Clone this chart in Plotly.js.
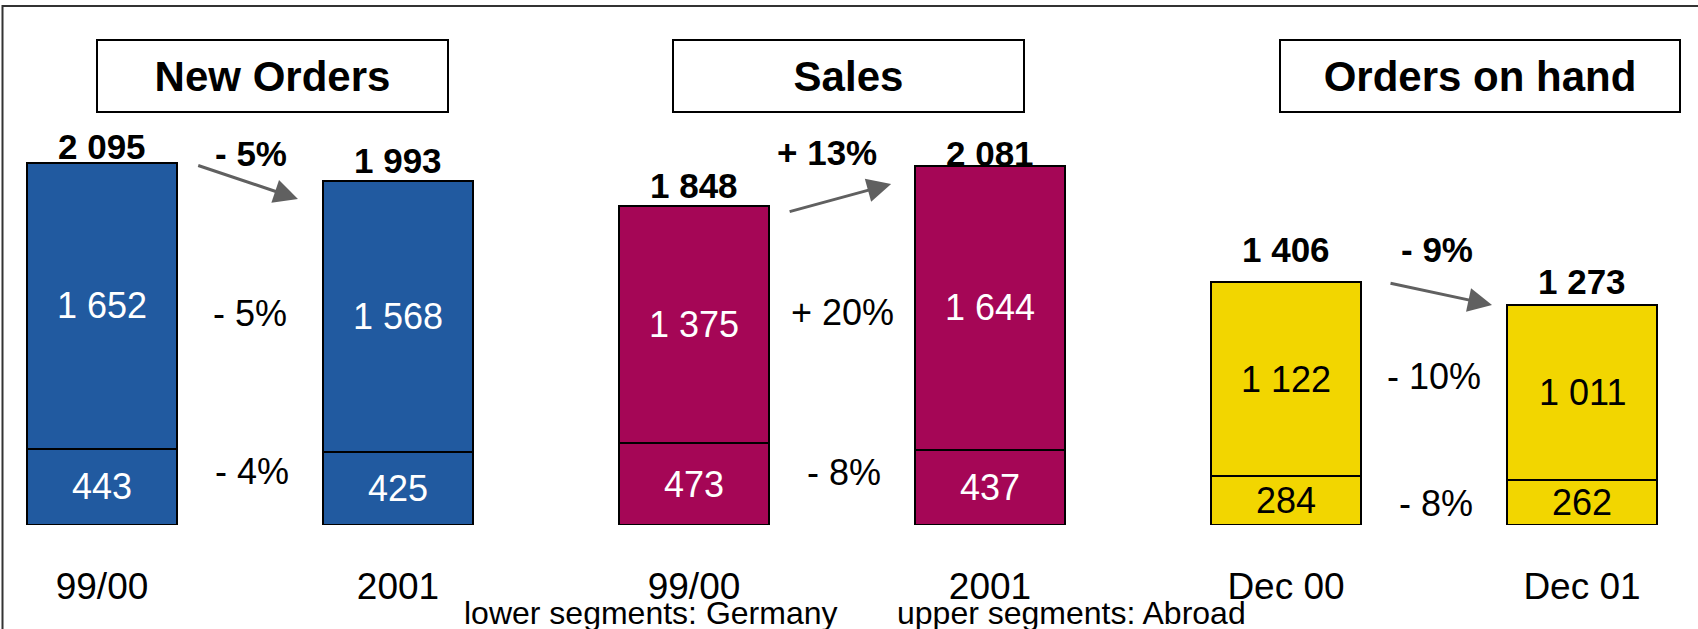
<!DOCTYPE html>
<html>
<head>
<meta charset="utf-8">
<script src="https://cdn.plot.ly/plotly-3.0.1.min.js"></script>
<style>html,body{margin:0;padding:0;background:#fff;}#chart{width:1698px;height:629px;}</style>
</head>
<body>
<div id="chart"></div>
<script>
// ---- data ----
const categories = ['99/00', '2001', '99/00', '2001', 'Dec 00', 'Dec 01'];
const panels = ['New Orders', 'Sales', 'Orders on hand'];
const germany = [443, 425, 473, 437, 284, 262];
const abroad = [1652, 1568, 1375, 1644, 1122, 1011];
const totals = [2095, 1993, 1848, 2081, 1406, 1273];
const changeTotal = ['- 5%', '+ 13%', '- 9%'];
const changeAbroad = ['- 5%', '+ 20%', '- 10%'];
const changeGermany = ['- 4%', '- 8%', '- 8%'];
const footerLeft = 'lower segments: Germany';
const footerRight = 'upper segments: Abroad';

// ---- styles ----
const FONT = 'Liberation Sans, Arial, Helvetica, sans-serif';
const panelColors = ['#215AA0', '#A50656', '#F2D600'];
const insideTextColors = ['#ffffff', '#ffffff', '#000000'];
const W = 1698, H = 629, MB = 104;
const PXU = 0.1726;            // pixels per value unit
const STEP = 296, X0 = 102;    // pixels between bar centres, first centre
const plotH = H - MB;
const totalShift = [17, 21, 21, 12, 33, 24];
const changeShift = [{dx: 1, dy: 10}, {dx: -15, dy: 13}, {dx: 3, dy: 33}];
const upperShift = [-2, 4, 9];
const lowerShift = [16, 13, -2];
const arrowGeom = [
  {tx: 0.32, ty: -9, hx: 0.662, hy: -104},
  {tx: 0.318, ty: -35, hx: 0.666, hy: -105},
  {tx: 0.348, ty: -4, hx: 0.696, hy: 2}
];
const boxes = [
  {cx: 272.5, w: 353}, {cx: 848.5, w: 353}, {cx: 1480, w: 402}
];

const xs = categories.map((c, i) => i);
const barColors = categories.map((c, i) => panelColors[Math.floor(i / 2)]);

const traces = [
  {type: 'bar', x: xs, y: germany, name: 'Germany', width: 0.505,
   marker: {color: barColors, line: {color: '#000', width: 2}}, hoverinfo: 'skip'},
  {type: 'bar', x: xs, y: abroad, name: 'Abroad', width: 0.505,
   marker: {color: barColors, line: {color: '#000', width: 2}}, hoverinfo: 'skip'}
];

const fmt = v => v.toLocaleString('en-US').replace(/,/g, ' ');
const ann = [];
// totals and inside values
categories.forEach((c, i) => {
  const p = Math.floor(i / 2);
  ann.push({x: i, y: totals[i], xref: 'x', yref: 'y', text: fmt(totals[i]),
    showarrow: false, yanchor: 'middle', yshift: totalShift[i],
    font: {family: FONT, size: 35, color: '#000', weight: 'bold'}});
  ann.push({x: i, y: germany[i] / 2, xref: 'x', yref: 'y', text: fmt(germany[i]),
    showarrow: false, yanchor: 'middle', font: {family: FONT, size: 36, color: insideTextColors[p]}});
  ann.push({x: i, y: germany[i] + abroad[i] / 2, xref: 'x', yref: 'y', text: fmt(abroad[i]),
    showarrow: false, yanchor: 'middle', font: {family: FONT, size: 36, color: insideTextColors[p]}});
});
// changes per panel
panels.forEach((name, p) => {
  const a = 2 * p, b = 2 * p + 1;
  const mid = a + 0.5;
  ann.push({x: mid, y: Math.max(totals[a], totals[b]), xref: 'x', yref: 'y', text: changeTotal[p],
    showarrow: false, yanchor: 'middle', xshift: changeShift[p].dx, yshift: changeShift[p].dy,
    font: {family: FONT, size: 35, color: '#000', weight: 'bold'}});
  const upMid = (germany[a] + abroad[a] / 2 + germany[b] + abroad[b] / 2) / 2;
  ann.push({x: mid, y: upMid, xref: 'x', yref: 'y', text: changeAbroad[p], showarrow: false,
    yanchor: 'middle', yshift: upperShift[p], font: {family: FONT, size: 36, color: '#000'}});
  const lowMid = (germany[a] / 2 + germany[b] / 2) / 2;
  ann.push({x: mid, y: lowMid, xref: 'x', yref: 'y', text: changeGermany[p], showarrow: false,
    yanchor: 'middle', yshift: lowerShift[p], xshift: 2, font: {family: FONT, size: 36, color: '#000'}});
  const g = arrowGeom[p];
  ann.push({x: a + g.hx, y: totals[b] + g.hy, ax: a + g.tx, ay: totals[a] + g.ty,
    xref: 'x', yref: 'y', axref: 'x', ayref: 'y', text: '', showarrow: true,
    arrowhead: 2, arrowsize: 1.6, arrowwidth: 3, arrowcolor: '#606060', standoff: 0, startstandoff: 0});
  // title box
  ann.push({x: boxes[p].cx / W, y: (plotH - 76) / plotH, xref: 'paper', yref: 'paper', text: name,
    showarrow: false, xanchor: 'center', yanchor: 'middle', width: boxes[p].w - 4, height: 70,
    bordercolor: '#000', borderwidth: 2, borderpad: 0, bgcolor: '#fff',
    font: {family: FONT, size: 42, color: '#000', weight: 'bold'}});
});
// footer
ann.push({x: 650 / W, y: (plotH - 613) / plotH, xref: 'paper', yref: 'paper', text: footerLeft,
  showarrow: false, xanchor: 'center', yanchor: 'middle', font: {family: FONT, size: 32, color: '#000'}});
ann.push({x: 1071 / W, y: (plotH - 613) / plotH, xref: 'paper', yref: 'paper', text: footerRight,
  showarrow: false, xanchor: 'center', yanchor: 'middle', font: {family: FONT, size: 32, color: '#000'}});

const layout = {
  width: W, height: H,
  margin: {l: 0, r: 0, t: 0, b: MB, pad: 0},
  paper_bgcolor: '#fff', plot_bgcolor: '#fff',
  barmode: 'stack', showlegend: false,
  xaxis: {range: [-X0 / STEP, (W - X0) / STEP], tickvals: xs, ticktext: categories,
    showgrid: false, zeroline: false, showline: false, ticks: '', ticklabelstandoff: 36,
    tickfont: {family: FONT, size: 37, color: '#000'}, fixedrange: true},
  yaxis: {range: [0, plotH / PXU], visible: false, showgrid: false, zeroline: false, fixedrange: true},
  annotations: ann,
  shapes: [{type: 'rect', xref: 'paper', yref: 'paper', x0: 2.5 / W, x1: 1.01,
    y0: -0.4, y1: (plotH - 6) / plotH, line: {color: '#333', width: 2}, layer: 'below'}]
};

Plotly.newPlot('chart', traces, layout, {staticPlot: true, displayModeBar: false});
</script>
</body>
</html>
